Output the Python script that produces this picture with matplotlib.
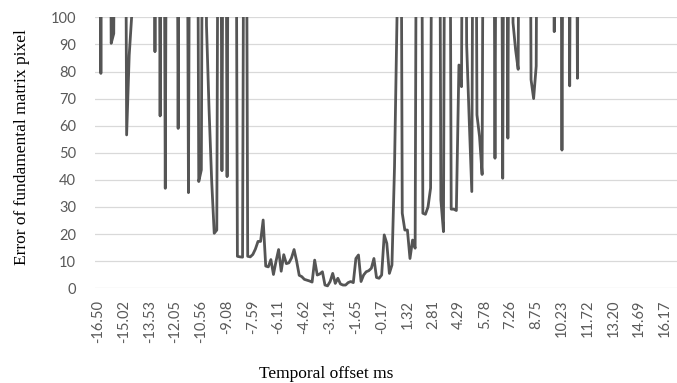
import matplotlib
matplotlib.use("Agg")
import matplotlib.pyplot as plt

# x-axis category labels (one label every 10 samples)
offset_labels = ["-16.50", "-15.02", "-13.53", "-12.05", "-10.56", "-9.08", "-7.59",
                 "-6.11", "-4.62", "-3.14", "-1.65", "-0.17", "1.32", "2.81", "4.29",
                 "5.78", "7.26", "8.75", "10.23", "11.72", "13.20", "14.69", "16.17"]

# error per temporal offset sample (values above 100 run off the chart)
error_px = [
    300, 79.3, 300, 300, 300, 90.4, 94, 300, 300, 300,
    300, 56.6, 86, 101, 300, 300, 300, 300, 300, 300,
    300, 300, 87.3, 300, 63.6, 300, 36.9, 300, 300, 300,
    300, 59, 300, 300, 300, 35.3, 300, 300, 300, 39.4,
    43.7, 300, 97, 66, 40, 20.3, 21.5, 300, 43.4, 300,
    41.2, 300, 300, 300, 11.8, 11.6, 11.5, 300, 11.8, 11.6,
    12.5, 14.5, 17.3, 17.3, 25.2, 8.2, 7.9, 10.6, 5.1, 10,
    14.3, 6.3, 12.4, 9.1, 9.4, 11.2, 14.3, 10, 4.8, 4.3,
    3.3, 3, 2.7, 2.3, 10.4, 4.9, 5.3, 6.1, 1.2, 0.9,
    2.5, 5.5, 1.8, 3.7, 1.6, 1.2, 1.2, 2.1, 2.5, 2.1,
    11, 12.3, 2.5, 4.9, 6.1, 6.5, 7.4, 11, 4, 3.7,
    4.9, 19.7, 16.6, 5.5, 8.6, 45, 102, 300, 27.7, 21.5,
    21.5, 11, 17.8, 14.8, 300, 300, 27.7, 27.3, 30, 37,
    300, 300, 300, 32.6, 20.9, 300, 300, 29.2, 29.2, 28.7,
    82.4, 74.4, 300, 90, 62, 35.7, 300, 64, 56, 42,
    300, 300, 300, 300, 48, 300, 300, 40.6, 300, 55.4,
    300, 98, 88, 80.8, 300, 300, 300, 300, 77, 70,
    82, 300, 300, 300, 300, 300, 300, 94.7, 300, 300,
    51, 300, 300, 74.7, 300, 300, 77.5, 300, 300, 300,
    300, 300, 300, 300, 300, 300, 300, 300, 300, 300,
    300, 300, 300, 300, 300, 300, 300, 300, 300, 300,
    300, 300, 300, 300, 300, 300, 300, 300, 300, 300,
    300,
]

sans = ["Lato", "DejaVu Sans"]
serif = ["Liberation Serif", "DejaVu Serif"]

fig = plt.figure(figsize=(6.77, 3.83), dpi=100)
ax = fig.add_axes([95 / 677, (383 - 288.3) / 383, 582 / 677, 271 / 383])

x = list(range(len(error_px)))
ax.plot(x, error_px, color="#555555", lw=2.0, solid_joinstyle="round")

ax.set_ylim(0, 100)
ax.set_xlim(-1.28, 224.66)
ax.set_yticks(range(0, 101, 10))
ax.set_xticks(range(0, 10 * len(offset_labels), 10))
ax.set_xticklabels(offset_labels, rotation=90)

ax.grid(axis="y", color="#d9d9d9", lw=0.9)
ax.set_axisbelow(True)
for s in ax.spines.values():
    s.set_visible(False)

ax.tick_params(axis="both", length=0, colors="#595959", labelsize=10.5)
ax.tick_params(axis="y", pad=13.5)
ax.tick_params(axis="x", pad=8.3)
for lab in ax.get_xticklabels() + ax.get_yticklabels():
    lab.set_family(sans)

fig.text(22 / 677, 1 - 147.5 / 383, "Error of fundamental matrix pixel",
         rotation=90, ha="center", va="center", family=serif, fontsize=12.5)
fig.text(326 / 677, 1 - 374 / 383, "Temporal offset ms",
         ha="center", va="center", family=serif, fontsize=12.5)

fig.savefig("out.png", dpi=100)
